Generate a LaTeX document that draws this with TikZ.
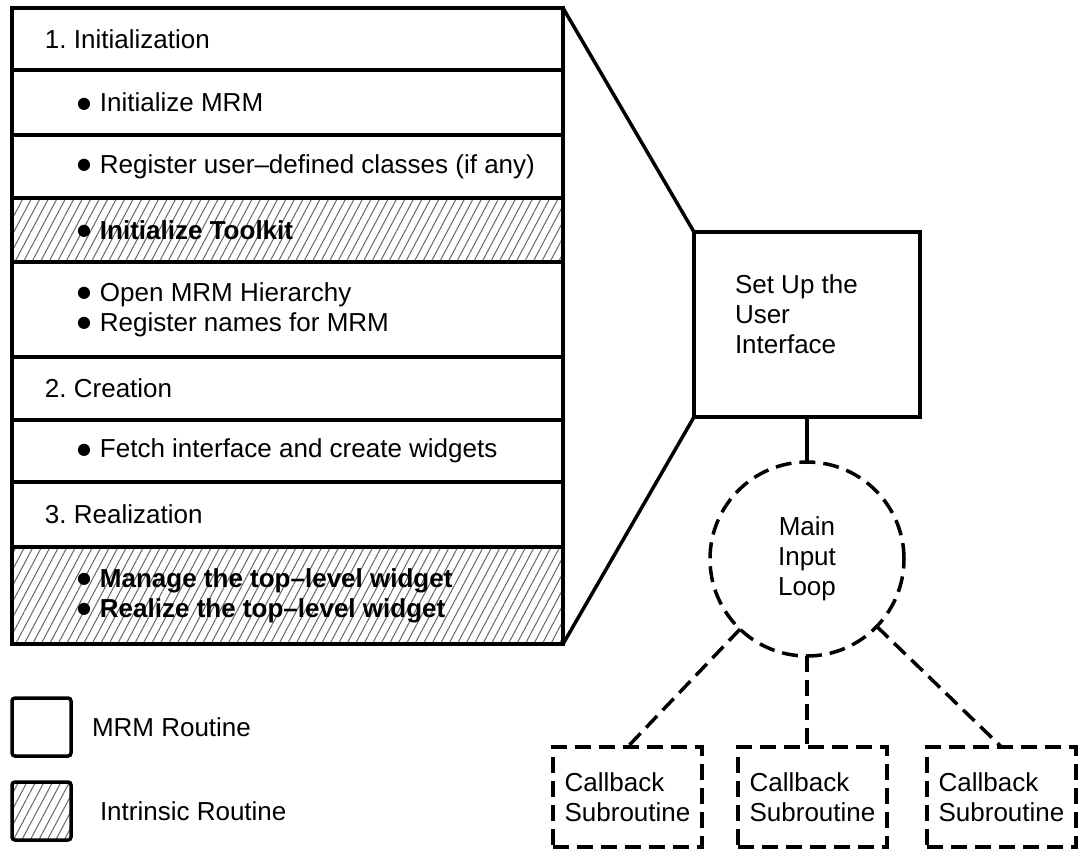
\documentclass[tikz,border=0pt]{standalone}
\usepackage{fontspec}
\setmainfont{Liberation Sans}
\newfontfamily\dotfont{DejaVu Sans}
\usetikzlibrary{patterns.meta}
% round bullet followed by its gap
\newcommand\bul{\raisebox{3.5pt}{\dotfont\fontsize{16pt}{16pt}\selectfont ●}\hspace{9pt}}
\frenchspacing
\begin{document}
\begin{tikzpicture}[x=1pt,y=-1pt,
  every node/.style={font=\fontsize{26pt}{30pt}\selectfont, outer sep=0pt},
  boldtext/.style={font=\fontsize{26pt}{30pt}\selectfont\bfseries},
  heavy/.style={line width=3.5pt},
  dashline/.style={line width=3.5pt, dash pattern=on 16pt off 8pt},
  hatch/.style={pattern={Lines[angle=62,distance=7.5pt,line width=1pt]}, pattern color=black!60},
  rowbox/.style={draw, heavy, anchor=north west, minimum width=551pt,
    minimum height=#1, inner sep=0pt},
  rowtext/.style={anchor=west, inner sep=0pt, align=left},
  cbbox/.style={draw, dashline, minimum width=149pt, minimum height=100pt,
    inner sep=0pt, align=left},
  legbox/.style={draw, heavy, rounded corners=3pt, anchor=north west,
    minimum width=59pt, minimum height=58pt, inner sep=0pt},
]
\useasboundingbox (0,0) rectangle (1085,849);

% --- program steps ---
\node[rowbox=62pt]        (r1) at (12,8)   {};
\node[rowbox=65pt]        (r2) at (12,70)  {};
\node[rowbox=63pt]        (r3) at (12,135) {};
\node[rowbox=64pt, hatch] (r4) at (12,198) {};
\node[rowbox=95pt]        (r5) at (12,262) {};
\node[rowbox=63pt]        (r6) at (12,357) {};
\node[rowbox=62pt]        (r7) at (12,420) {};
\node[rowbox=65pt]        (r8) at (12,482) {};
\node[rowbox=97pt, hatch] (r9) at (12,547) {};

\node[rowtext] (t1) at ([xshift=33pt]r1.west) {1. Initialization};
\node[rowtext] (t2) at ([xshift=65pt]r2.west) {\bul Initialize MRM};
\node[rowtext] (t3) at ([xshift=65pt]r3.west) {\bul Register user–defined classes (if any)};
\node[rowtext, boldtext] (t4) at ([xshift=65pt]r4.west) {\bul Initialize Toolkit};
\node[rowtext] (t5) at ([xshift=65pt]r5.west) {\bul Open MRM Hierarchy\\\bul Register names for MRM};
\node[rowtext] (t6) at ([xshift=33pt]r6.west) {2. Creation};
\node[rowtext] (t7) at ([xshift=65pt]r7.west) {\bul Fetch interface and create widgets};
\node[rowtext] (t8) at ([xshift=33pt]r8.west) {3. Realization};
\node[rowtext, boldtext] (t9) at ([xshift=65pt]r9.west) {\bul Manage the top–level widget\\\bul Realize the top–level widget};

% --- overview ---
\node[draw, heavy, anchor=north west, minimum width=226pt, minimum height=185pt, inner sep=0pt]
  (su) at (694,232) {};
\node[anchor=west, align=left, inner sep=0pt] (sutext) at (735,314) {Set Up the\\User\\Interface};

\draw[heavy] (r1.north east) -- (su.north west);
\draw[heavy] (r9.south east) -- (su.south west);

\node[draw, dashline, circle, minimum size=194pt, inner sep=0pt, align=center]
  (loop) at (807,559) {Main\\Input\\Loop};
\draw[heavy] (su.south) -- (loop.north);

\node[cbbox] (cb1) at (627.5,797) {Callback\\Subroutine};
\node[cbbox] (cb2) at (812.5,797) {Callback\\Subroutine};
\node[cbbox] (cb3) at (1001.5,797) {Callback\\Subroutine};

\draw[dashline] (loop) -- (cb1.north);
\draw[dashline] (loop.south) -- (loop.south |- cb2.north);
\draw[dashline] (loop) -- (cb3.north);

% --- legend ---
\node[legbox] (lg1) at (12,698) {};
\node[anchor=west, inner sep=0pt] (lg1text) at (92,727) {MRM Routine};
\node[legbox, hatch] (lg2) at (12,782) {};
\node[anchor=west, inner sep=0pt] (lg2text) at (100,811) {Intrinsic Routine};
\end{tikzpicture}
\end{document}
